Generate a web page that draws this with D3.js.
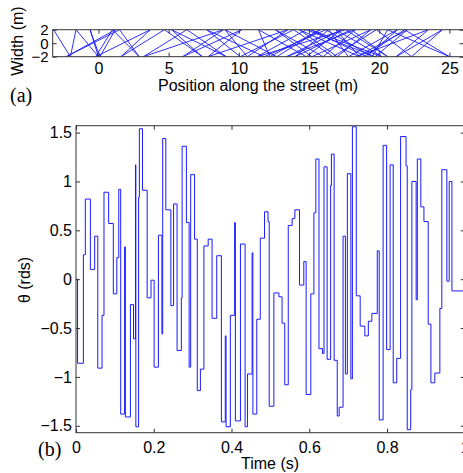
<!DOCTYPE html>
<html>
<head>
<meta charset="utf-8">
<script src="https://cdn.jsdelivr.net/npm/d3@7"></script>
<style>
body { margin: 0; background: #fff; }
text { font-family: "Liberation Sans", Arial, sans-serif; }
</style>
</head>
<body>
<svg id="chart" width="463" height="473"></svg>
<script>
// (a) path along the street: x (m) where it touches the walls, alternating top / bottom
var bounceX = [-3.2, -2.0, -1.6, 0.0, -0.6, 0.1, 1.2, -2.3, 1.5, 2.9, 1.0, -0.2, 3.7, 1.6,
    4.7, 7.4, 5.2, 9.1, 6.3, 3.2, 8.9, 6.0, 10.2, 7.8, 13.5, 10.6, 9.0, 12.7, 15.8, 12.2,
    11.4, 14.8, 17.3, 13.4, 18.3, 16.0, 12.6, 15.2, 19.4, 17.0, 14.3, 18.6, 16.9, 20.2,
    15.1, 19.1, 21.3, 17.8, 16.4, 14.0, 18.0, 20.6, 17.6, 11.3, 14.8, 19.7, 22.0, 18.4,
    23.5, 21.2, 24.5, 22.3, 19.8, 16.7, 13.9, 10.1, 7.7, 11.8, 16.2, 19.5, 20.6, 25.0,
    21.8, 18.9];
var wallY = [2, -2];
var streetTicks = [0, 5, 10, 15, 20, 25];
var widthTicks = [-2, 0, 2];

// (b) heading angle, constant between switching times
var stepTime = [0.000, 0.004, 0.019, 0.024, 0.037, 0.048, 0.056, 0.067, 0.072, 0.084,
    0.096, 0.105, 0.110, 0.115, 0.125, 0.127, 0.140, 0.148, 0.153, 0.154,
    0.161, 0.163, 0.171, 0.183, 0.193, 0.201, 0.212, 0.221, 0.223, 0.231,
    0.244, 0.251, 0.260, 0.271, 0.273, 0.284, 0.291, 0.295, 0.305, 0.312,
    0.320, 0.329, 0.340, 0.350, 0.362, 0.374, 0.384, 0.386, 0.397, 0.408,
    0.410, 0.423, 0.435, 0.441, 0.453, 0.455, 0.465, 0.474, 0.485, 0.494,
    0.497, 0.509, 0.522, 0.530, 0.537, 0.546, 0.556, 0.563, 0.575, 0.586,
    0.592, 0.604, 0.612, 0.617, 0.625, 0.634, 0.638, 0.646, 0.655, 0.657,
    0.664, 0.672, 0.677, 0.687, 0.693, 0.698, 0.707, 0.711, 0.721, 0.731,
    0.743, 0.752, 0.761, 0.775, 0.780, 0.790, 0.799, 0.808, 0.816, 0.825,
    0.835, 0.849, 0.852, 0.861, 0.864, 0.875, 0.878, 0.887, 0.895, 0.906,
    0.913, 0.923, 0.936, 0.941, 0.954, 0.960, 0.967, 1.000];
var theta = [0.00, -0.86, 0.25, 0.82, 0.10, 0.44, -0.91, -0.37, 0.89, 0.57,
    -0.15, 0.22, 0.92, -1.38, 0.33, -1.41, -0.26, -0.61, 1.17, -1.51,
    0.84, 1.54, 0.91, -0.19, -0.01, -0.90, 0.45, -0.56, 1.44, 0.71,
    -0.27, 0.77, -0.73, -0.19, 1.36, 0.58, -0.90, 1.07, 0.41, -1.14,
    -0.92, 0.34, 0.41, -0.40, 0.24, -1.46, -0.58, -1.51, -0.37, 0.58,
    -1.45, 0.36, -1.51, -0.97, 0.27, -1.38, -0.41, 0.42, 0.69, 0.59,
    -1.30, -0.14, -0.18, -0.45, -1.08, 0.55, 0.62, 0.71, -0.06, 0.18,
    -1.18, -0.15, 0.68, 1.23, -0.71, -0.76, 1.15, -0.82, 0.96, 1.28,
    -0.83, -1.40, -1.31, 0.44, -0.97, 1.08, -1.02, 1.56, -0.17, -0.48,
    -0.58, -0.43, -0.35, 0.29, -1.44, 1.37, -0.72, 1.17, -1.06, -0.81,
    1.46, 1.16, -1.54, -1.13, 1.00, -0.21, 1.23, 0.74, 0.59, -0.46,
    -1.06, -0.96, -0.30, 1.12, -0.02, 1.00, -0.12, -0.12];
var timeTicks = [0, 0.2, 0.4, 0.6, 0.8, 1];
var thetaTicks = [-1.5, -1, -0.5, 0, 0.5, 1, 1.5];

var svg = d3.select("#chart");
var axisColor = "#333";
var lineColor = "#1a1aff";
var minus = function(d) { return String(d).replace("-", "\u2212"); };

function frame(g, x, y, w, h) {
    g.append("rect")
        .attr("x", x).attr("y", y)
        .attr("width", w).attr("height", h)
        .attr("fill", "none")
        .attr("stroke", axisColor)
        .attr("stroke-width", 1);
}

function styleAxis(sel, size) {
    sel.select(".domain").remove();
    sel.selectAll(".tick line").attr("stroke", axisColor);
    sel.selectAll("text")
        .attr("fill", "#000")
        .style("font-size", (size || 16) + "px")
        .style("font-family", "'Liberation Sans', Arial, sans-serif");
}

// ---------- panel (a) ----------
var ax = d3.scaleLinear().domain([-3.26, 26.0]).range([52.7, 463.5]);
var ay = d3.scaleLinear().domain([-2, 2]).range([56.7, 29.7]);

var ga = svg.append("g");
ga.append("clipPath").attr("id", "clipA")
    .append("rect")
    .attr("x", ax.range()[0]).attr("y", ay.range()[1])
    .attr("width", ax.range()[1] - ax.range()[0])
    .attr("height", ay.range()[0] - ay.range()[1]);

var pathPts = bounceX.map(function(x, i) { return [x, wallY[i % 2]]; });
ga.append("path")
    .datum(pathPts)
    .attr("clip-path", "url(#clipA)")
    .attr("fill", "none")
    .attr("stroke", lineColor)
    .attr("stroke-width", 0.9)
    .attr("d", d3.line()
        .x(function(d) { return ax(d[0]); })
        .y(function(d) { return ay(d[1]); }));

ga.append("g")
    .attr("transform", "translate(0," + ay(-2) + ")")
    .call(d3.axisBottom(ax).tickValues(streetTicks).tickSizeInner(-4).tickSizeOuter(0).tickPadding(6))
    .call(styleAxis);
ga.append("g")
    .attr("transform", "translate(0," + ay(2) + ")")
    .call(d3.axisTop(ax).tickValues(streetTicks).tickSizeInner(-4).tickSizeOuter(0).tickFormat(""))
    .call(styleAxis);
ga.append("g")
    .attr("transform", "translate(" + ax.range()[0] + ",0)")
    .call(d3.axisLeft(ay).tickValues(widthTicks).tickSizeInner(-4).tickSizeOuter(0).tickPadding(4).tickFormat(minus))
    .call(styleAxis, 15);
ga.append("g")
    .attr("transform", "translate(" + ax.range()[1] + ",0)")
    .call(d3.axisRight(ay).tickValues(widthTicks).tickSizeInner(-4).tickSizeOuter(0).tickFormat(""))
    .call(styleAxis);
frame(ga, ax.range()[0], ay.range()[1], ax.range()[1] - ax.range()[0], ay.range()[0] - ay.range()[1]);

ga.append("text")
    .attr("x", (ax.range()[0] + ax.range()[1]) / 2)
    .attr("y", 91)
    .attr("text-anchor", "middle")
    .style("font-size", "16px")
    .text("Position along the street (m)");
ga.append("text")
    .attr("transform", "translate(23," + 41 + ") rotate(-90)")
    .attr("text-anchor", "middle")
    .style("font-size", "16px")
    .text("Width (m)");
ga.append("text")
    .attr("x", 10).attr("y", 102)
    .style("font-family", "'Liberation Serif', 'Times New Roman', serif")
    .style("font-size", "20px")
    .text("(a)");

// ---------- panel (b) ----------
var bx = d3.scaleLinear().domain([0, 1]).range([76, 464.75]);
var by = d3.scaleLinear().domain([-Math.PI / 2, Math.PI / 2]).range([432.7, 125.7]);

var gb = svg.append("g");
gb.append("clipPath").attr("id", "clipB")
    .append("rect")
    .attr("x", bx.range()[0]).attr("y", by.range()[1])
    .attr("width", bx.range()[1] - bx.range()[0])
    .attr("height", by.range()[0] - by.range()[1]);

var steps = stepTime.map(function(t, i) { return [t, theta[i]]; });
gb.append("path")
    .datum(steps)
    .attr("clip-path", "url(#clipB)")
    .attr("fill", "none")
    .attr("stroke", lineColor)
    .attr("stroke-width", 1)
    .attr("d", d3.line()
        .curve(d3.curveStepAfter)
        .x(function(d) { return bx(d[0]); })
        .y(function(d) { return by(d[1]); }));

gb.append("g")
    .attr("transform", "translate(0," + by.range()[0] + ")")
    .call(d3.axisBottom(bx).tickValues(timeTicks).tickSizeInner(-4).tickSizeOuter(0).tickPadding(9).tickFormat(function(d) { return String(d); }))
    .call(styleAxis);
gb.append("g")
    .attr("transform", "translate(0," + by.range()[1] + ")")
    .call(d3.axisTop(bx).tickValues(timeTicks).tickSizeInner(-4).tickSizeOuter(0).tickFormat(""))
    .call(styleAxis);
gb.append("g")
    .attr("transform", "translate(" + bx.range()[0] + ",0)")
    .call(d3.axisLeft(by).tickValues(thetaTicks).tickSizeInner(-4).tickSizeOuter(0).tickPadding(4).tickFormat(minus))
    .call(styleAxis);
gb.append("g")
    .attr("transform", "translate(" + bx.range()[1] + ",0)")
    .call(d3.axisRight(by).tickValues(thetaTicks).tickSizeInner(-4).tickSizeOuter(0).tickFormat(""))
    .call(styleAxis);
frame(gb, bx.range()[0], by.range()[1], bx.range()[1] - bx.range()[0], by.range()[0] - by.range()[1]);

gb.append("text")
    .attr("x", 270).attr("y", 469)
    .attr("text-anchor", "middle")
    .style("font-size", "16px")
    .text("Time (s)");
gb.append("text")
    .attr("transform", "translate(30," + 280 + ") rotate(-90)")
    .attr("text-anchor", "middle")
    .style("font-size", "16px")
    .text("\u03b8 (rds)");
gb.append("text")
    .attr("x", 38).attr("y", 456)
    .style("font-family", "'Liberation Serif', 'Times New Roman', serif")
    .style("font-size", "20px")
    .text("(b)");
</script>
</body>
</html>
